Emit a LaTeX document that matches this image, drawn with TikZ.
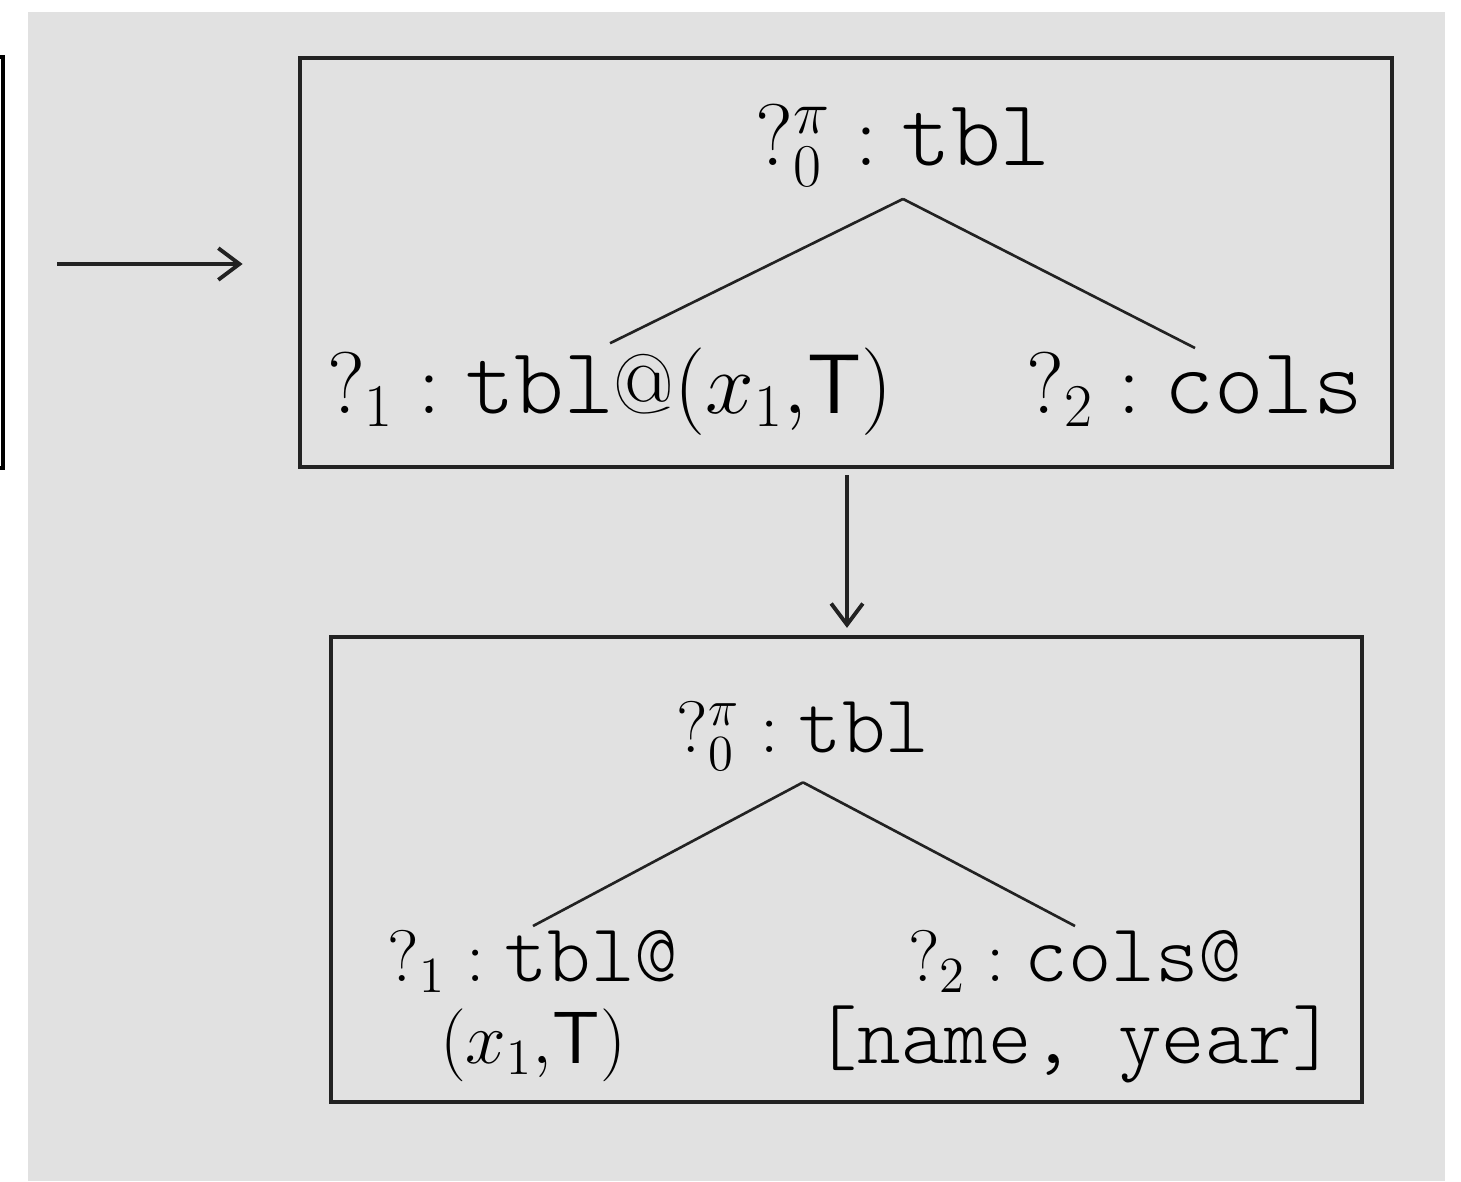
\documentclass[tikz,border=0pt]{standalone}
\usepackage{fontspec}
\setmonofont{Latin Modern Mono Light}[Scale=1.12]
\usetikzlibrary{positioning,arrows.meta}
\definecolor{bggray}{RGB}{225,225,225}
\definecolor{inkgray}{RGB}{34,34,34}
\tikzset{
  treebox/.style={draw=inkgray, line width=1.15pt, inner sep=0pt},
  bigterm/.style={font=\fontsize{24}{28}\selectfont, inner sep=1pt},
  smallterm/.style={font=\fontsize{21}{23.3}\selectfont, inner sep=1pt, align=center},
  rootterm/.style={outer sep=2.5pt},
  branch/.style={draw=inkgray, line width=0.75pt},
  link/.style={draw=inkgray, line width=1.1pt, -{Straight Barb[length=6pt,width=9pt,line width=1.1pt]}}
}

\begin{document}
\begin{tikzpicture}[x=0.01cm,y=-0.01cm]
\useasboundingbox (0,0) rectangle (1461,1181);
\fill[white] (0,0) rectangle (1461,1181);
\fill[bggray] (28,12) rectangle (1445,1181);
% part of the previous box, cut off at the left
\draw[black, line width=1.4pt] (-40,57) rectangle (3,468);

% boxes
\node[treebox, minimum width=10.92cm, minimum height=4.09cm] (topbox) at (846,262.5) {};
\node[treebox, minimum width=10.31cm, minimum height=4.65cm] (botbox) at (846.5,869.5) {};

% upper tree
\node[bigterm, rootterm, anchor=base] (troot) at (903,165) {$?_0^{\pi}:\texttt{tbl}$};
\node[bigterm, anchor=base] (tleft) at (610,413) {$?_1:\texttt{tbl}\textrm{@}(x_1{,}\mathsf{T})$};
\node[bigterm, anchor=base] (tright) at (1195,413) {$?_2:\texttt{cols}$};
\draw[branch] (troot.south) -- (tleft.north);
\draw[branch] (troot.south) -- (tright.north);

% lower tree
\node[smallterm, rootterm, anchor=base] (broot) at (803,752) {$?_0^{\pi}:\texttt{tbl}$};
\node[smallterm, anchor=north] (bleft) at (533,926) {$?_1:\texttt{tbl@}$\\$(x_1{,}\mathsf{T})$};
\node[smallterm, anchor=north] (bright) at (1075,926) {$?_2:\texttt{cols@}$\\\texttt{[name, year]}};
\draw[branch] (broot.south) -- (bleft.north);
\draw[branch] (broot.south) -- (bright.north);

% arrows
\coordinate (start) at (57,264);
\coordinate (down) at (847,0);
\draw[link, shorten >=0.55cm] (start) -- (start -| topbox.west);
\draw[link, shorten <=0.06cm, shorten >=0.07cm] (topbox.south -| down) -- (botbox.north -| down);
\end{tikzpicture}
\end{document}
